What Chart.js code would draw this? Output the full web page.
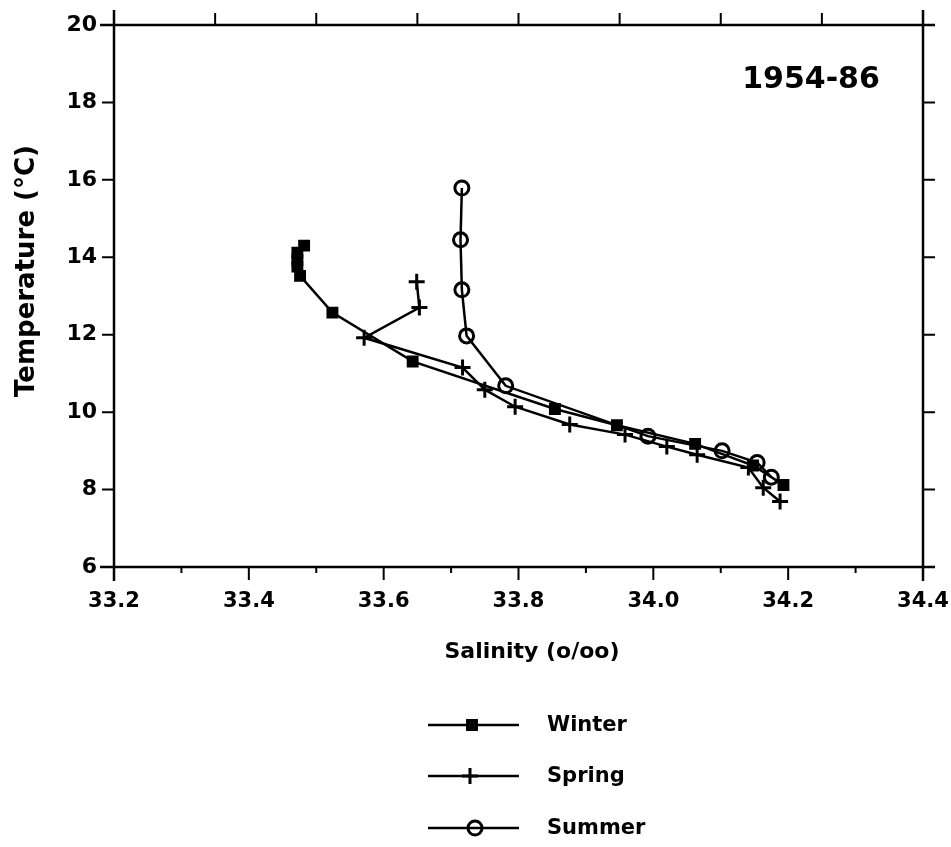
<!DOCTYPE html>
<html>
<head>
<meta charset="utf-8">
<script src="https://cdn.jsdelivr.net/npm/chart.js@4.4.0/dist/chart.umd.min.js"></script>
<style>
  html, body { margin: 0; padding: 0; background: #fff; }
  #wrap { width: 951px; height: 847px; }
</style>
</head>
<body>
<div id="wrap"><canvas id="c" width="951" height="847"></canvas></div>
<script>
// ---- data ----
const seriesNames = ['Winter', 'Spring', 'Summer'];
const winterSalinity = [33.482, 33.472, 33.472, 33.472, 33.476, 33.524, 33.643, 33.854, 33.946, 34.062, 34.148, 34.193];
const winterTemp     = [14.30, 14.12, 13.93, 13.76, 13.52, 12.57, 11.31, 10.08, 9.66, 9.18, 8.62, 8.12];
const springSalinity = [33.649, 33.653, 33.571, 33.717, 33.750, 33.795, 33.876, 33.958, 34.020, 34.065, 34.141, 34.163, 34.188];
const springTemp     = [13.37, 12.70, 11.92, 11.15, 10.58, 10.14, 9.68, 9.42, 9.11, 8.90, 8.57, 8.05, 7.69];
const summerSalinity = [33.716, 33.714, 33.716, 33.723, 33.781, 33.992, 34.102, 34.154, 34.175];
const summerTemp     = [15.79, 14.45, 13.16, 11.97, 10.68, 9.38, 9.00, 8.70, 8.32];
const xTickValues = [33.2, 33.4, 33.6, 33.8, 34.0, 34.2, 34.4];
const yTickValues = [6, 8, 10, 12, 14, 16, 18, 20];
const periodLabel = '1954-86';
const xTitle = 'Salinity (o/oo)';
const yTitle = 'Temperature (°C)';

function pts(xs, ys) { return xs.map((x, i) => ({ x: x, y: ys[i] })); }

const FONT = "'DejaVu Sans', sans-serif";
const styles = [
  { pointStyle: 'rect', radius: 7, bw: 2, bg: '#000' },
  { pointStyle: 'cross', radius: 8, bw: 3, bg: '#000' },
  { pointStyle: 'circle', radius: 7, bw: 3, bg: 'rgba(0,0,0,0)' }
];

const datasets = [
  pts(winterSalinity, winterTemp),
  pts(springSalinity, springTemp),
  pts(summerSalinity, summerTemp)
].map((d, i) => ({
  label: seriesNames[i],
  data: d,
  showLine: true,
  borderColor: '#000',
  borderWidth: 2.5,
  backgroundColor: styles[i].bg,
  pointStyle: styles[i].pointStyle,
  pointRadius: styles[i].radius,
  pointBorderWidth: styles[i].bw,
  pointBorderColor: '#000',
  pointBackgroundColor: styles[i].bg,
  tension: 0
}));

const framePlugin = {
  id: 'frame',
  afterDraw(chart) {
    const ctx = chart.ctx;
    const xs = chart.scales.x, ys = chart.scales.y;
    const L = xs.getPixelForValue(33.2), R = xs.getPixelForValue(34.4);
    const T = ys.getPixelForValue(20), B = ys.getPixelForValue(6);
    ctx.save();
    ctx.strokeStyle = '#000';
    ctx.lineCap = 'butt';
    ctx.lineWidth = 2.5;
    ctx.beginPath();
    ctx.moveTo(L - 14, T); ctx.lineTo(R + 12, T);
    ctx.moveTo(L - 14, B); ctx.lineTo(R + 12, B);
    ctx.moveTo(L, T - 15); ctx.lineTo(L, B + 14);
    ctx.moveTo(R, T - 15); ctx.lineTo(R, B + 14);
    ctx.stroke();
    ctx.lineWidth = 2;
    ctx.beginPath();
    // bottom ticks: major every 0.2, minor every 0.1
    for (let k = 0; k <= 12; k++) {
      const v = 33.2 + k * 0.1;
      const px = xs.getPixelForValue(v);
      const len = (k % 2 === 0) ? 13 : 6;
      ctx.moveTo(px, B); ctx.lineTo(px, B + len);
    }
    // top ticks: 8 equal intervals
    for (let k = 0; k <= 8; k++) {
      const v = 33.2 + k * 0.15;
      const px = xs.getPixelForValue(v);
      ctx.moveTo(px, T); ctx.lineTo(px, T - 12);
    }
    // left and right ticks
    yTickValues.forEach(v => {
      const py = ys.getPixelForValue(v);
      ctx.moveTo(L, py); ctx.lineTo(L - 12, py);
      ctx.moveTo(R, py); ctx.lineTo(R + 12, py);
    });
    ctx.stroke();

    ctx.fillStyle = '#000';
    // axis titles
    ctx.font = "bold 22px " + FONT;
    ctx.textAlign = 'center';
    ctx.textBaseline = 'middle';
    ctx.fillText(xTitle, 532, 652);
    ctx.save();
    ctx.translate(27, 271);
    ctx.rotate(-Math.PI / 2);
    ctx.font = "bold 26px " + FONT;
    ctx.fillText(yTitle, 0, 0);
    ctx.restore();

    // period label
    ctx.font = "bold 30px " + FONT;
    ctx.fillText(periodLabel, 811, 80);

    // legend
    const rowsY = [725, 776, 828];
    const markX = [472, 470, 475];
    chart.data.datasets.forEach((ds, i) => {
      const y = rowsY[i];
      ctx.lineWidth = 2.5;
      ctx.strokeStyle = '#000';
      ctx.beginPath();
      ctx.moveTo(428, y); ctx.lineTo(519, y);
      ctx.stroke();
      ctx.lineWidth = styles[i].bw;
      ctx.fillStyle = styles[i].bg;
      Chart.helpers.drawPoint(ctx, {
        pointStyle: styles[i].pointStyle,
        radius: styles[i].radius,
        rotation: 0,
        borderWidth: styles[i].bw
      }, markX[i], y);
      ctx.fillStyle = '#000';
      ctx.font = "bold 21px " + FONT;
      ctx.textAlign = 'left';
      ctx.textBaseline = 'middle';
      ctx.fillText(ds.label, 547, y + 1);
    });
    ctx.restore();
  }
};

new Chart(document.getElementById('c'), {
  type: 'scatter',
  data: { datasets: datasets },
  plugins: [framePlugin],
  options: {
    responsive: false,
    animation: false,
    layout: { padding: { left: 0, right: 28, top: 25, bottom: 170 } },
    plugins: { legend: { display: false }, tooltip: { enabled: false } },
    scales: {
      x: {
        type: 'linear',
        min: 33.2, max: 34.4,
        afterFit(scale) { scale.height = 110; scale.paddingRight = 0; scale.paddingLeft = 0; },
        afterBuildTicks(scale) { scale.ticks = xTickValues.map(v => ({ value: v })); },
        grid: { display: true, drawOnChartArea: false, drawTicks: true, tickLength: 12, color: 'rgba(0,0,0,0)' },
        border: { display: false },
        ticks: {
          padding: 10,
          color: '#000',
          font: { family: FONT, size: 21, weight: 'bold' },
          maxRotation: 0,
          callback: v => v.toFixed(1)
        },
        title: { display: false }
      },
      y: {
        type: 'linear',
        min: 6, max: 20,
        afterFit(scale) { scale.width = 114; scale.paddingTop = 0; scale.paddingBottom = 0; },
        afterBuildTicks(scale) { scale.ticks = yTickValues.map(v => ({ value: v })); },
        grid: { display: true, drawOnChartArea: false, drawTicks: true, tickLength: 12, color: 'rgba(0,0,0,0)' },
        border: { display: false },
        ticks: {
          padding: 5,
          color: '#000',
          font: { family: FONT, size: 22, weight: 'bold' },
          callback: v => String(v)
        },
        title: { display: false }
      }
    }
  }
});
</script>
</body>
</html>
